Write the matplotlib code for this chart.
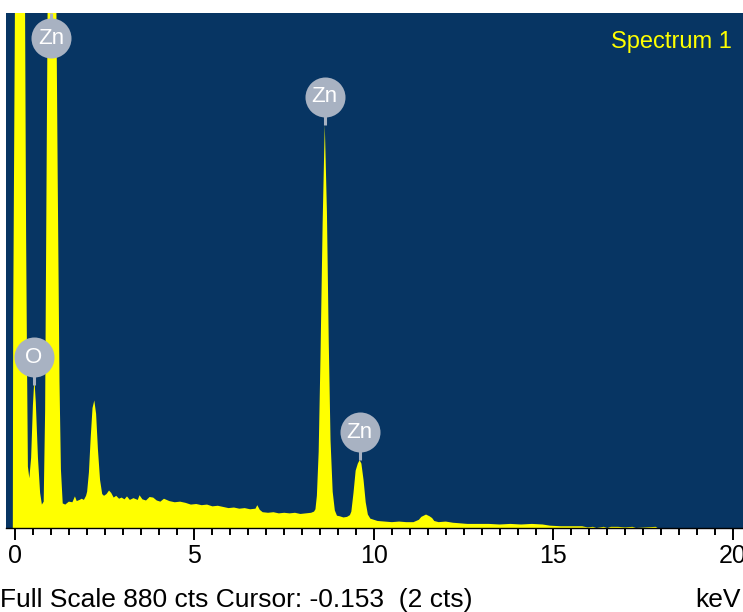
import matplotlib
matplotlib.use("Agg")
import matplotlib.pyplot as plt
from matplotlib.ticker import MultipleLocator
import numpy as np

plt.rcParams['font.family'] = ['Liberation Sans', 'DejaVu Sans']

# spectrum: energy (keV) and counts
energy_kev = [-0.06, -0.05, 0.0, 0.05, 0.15, 0.25, 0.28, 0.31, 0.34, 0.36,
              0.40, 0.45, 0.50, 0.54, 0.58, 0.64, 0.70, 0.75, 0.80,
              0.84, 0.88, 0.92, 0.97, 1.02, 1.08, 1.14, 1.19, 1.24, 1.28, 1.33,
              1.40, 1.50, 1.60, 1.67, 1.72, 1.80, 1.86, 1.92, 1.98,
              2.01, 2.06, 2.11, 2.16, 2.21, 2.26, 2.31, 2.37, 2.43, 2.48, 2.55,
              2.62, 2.68, 2.75, 2.82, 2.90, 2.97, 3.05, 3.12, 3.20, 3.30, 3.42,
              3.47, 3.55, 3.65, 3.75, 3.85, 3.95, 4.05, 4.15, 4.30, 4.45, 4.60,
              4.75, 4.90, 5.05, 5.20, 5.35, 5.50, 5.65, 5.80, 5.95, 6.10, 6.25,
              6.40, 6.55, 6.70, 6.75, 6.82, 6.90, 7.05, 7.20, 7.35, 7.50, 7.65,
              7.80, 7.95, 8.10, 8.25, 8.33,
              8.37, 8.41, 8.46, 8.51, 8.57, 8.63, 8.69, 8.74, 8.79, 8.85, 8.91, 8.97,
              9.05, 9.15, 9.25, 9.33,
              9.37, 9.43, 9.49, 9.55, 9.60, 9.65, 9.71, 9.77, 9.83, 9.90,
              10.0, 10.1, 10.3, 10.5, 10.7, 10.9, 11.1, 11.25, 11.32, 11.45, 11.55,
              11.62, 11.68, 11.8, 12.0, 12.2, 12.4, 12.6, 12.9, 13.2, 13.5, 13.8,
              14.1, 14.4, 14.7, 14.9, 15.2, 15.5, 15.8, 15.95, 16.1, 16.2, 16.4,
              16.5, 16.6, 16.8, 17.0, 17.2, 17.3, 17.85, 17.9, 20.3]
counts = [0, 350, 900, 2500, 3000, 1500, 900, 500, 250, 105,
          85, 120, 210, 255, 215, 120, 60, 40, 45,
          200, 600, 1000, 1400, 1500, 1400, 1000, 600, 250, 100, 42,
          40, 45, 44, 54, 46, 48, 50, 48, 55,
          62, 95, 155, 205, 218, 195, 135, 82, 58, 55, 58,
          64, 60, 52, 55, 50, 52, 49, 54, 48, 51, 48,
          56, 49, 47, 53, 52, 47, 45, 50, 46, 44, 45,
          43, 40, 41, 39, 40, 37, 38, 36, 34, 35, 33,
          34, 32, 33, 39, 31, 27, 26, 27, 25, 26, 25,
          26, 24, 25, 26, 28,
          32, 55, 130, 290, 520, 689, 540, 320, 150, 62, 30, 21,
          20, 18, 19, 22,
          28, 60, 98, 110, 116, 110, 82, 44, 23, 16,
          14, 12, 11, 10, 11, 10, 10, 14, 19, 23, 20,
          17, 12, 10, 11, 9, 8, 7, 7, 7, 6, 7,
          6, 7, 6, 4, 3, 3, 3, 1, 2, 0, 2,
          0, 2, 2, 1, 2, 0, 2, 0, 0]

full_scale = 880
peak_elements = ['Zn', 'Zn', 'O', 'Zn']
peak_energies = [1.01, 8.63, 0.53, 9.60]

navy = '#073563'
label_grey = '#A8B2C2'

fig = plt.figure(figsize=(7.43, 6.12), dpi=100)
ax = fig.add_axes([6/743, 84/612, 737/743, 515/612])
ax.set_facecolor(navy)

ax.fill_between(energy_kev, counts, 0, color='#FFFF00', linewidth=0)

ax.set_xlim(-0.25, 20.28)
ax.set_ylim(0, full_scale)

# element markers: grey disc on a short stem above each peak
px = full_scale / 515.0
for el, e in zip(peak_elements, peak_energies):
    top = np.interp(e, energy_kev, counts)
    yc = min(top + 28 * px, full_scale - 25 * px)
    ax.plot([e, e], [yc, min(top, full_scale)], color=label_grey, lw=2.2,
            solid_capstyle='butt', zorder=3)
    ax.scatter([e], [yc], s=830, color=label_grey, zorder=4, linewidths=0)
    ax.text(e, yc, el, color='white', fontsize=16, ha='center', va='center',
            zorder=5)

ax.text(0.985, 0.965, 'Spectrum 1', transform=ax.transAxes, color='#FFFF00',
        fontsize=17, ha='right', va='top')

for s in ['left', 'top', 'right']:
    ax.spines[s].set_visible(False)
ax.spines['bottom'].set_color('black')
ax.spines['bottom'].set_linewidth(1)
ax.set_yticks([])
ax.set_xticks([0, 5, 10, 15, 20])
ax.xaxis.set_minor_locator(MultipleLocator(0.5))
ax.tick_params(axis='x', which='major', direction='out', length=8.5,
               width=1.4, color='black', labelsize=18, pad=3)
ax.tick_params(axis='x', which='minor', direction='out', length=5,
               width=1.4, color='black')

fig.text(0.0, 5/612, 'Full Scale 880 cts Cursor: -0.153  (2 cts)',
         fontsize=19, ha='left', va='baseline')
fig.text(741/743, 5/612, 'keV', fontsize=19, ha='right', va='baseline')

fig.savefig('out.png', dpi=100)
